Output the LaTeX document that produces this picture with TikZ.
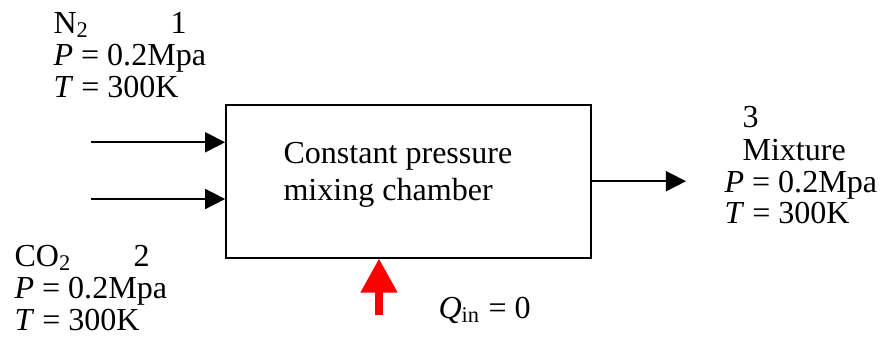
\documentclass[tikz,border=0pt]{standalone}
\usepackage{fontspec}
\setmainfont{Liberation Serif}
\usetikzlibrary{arrows.meta}
\tikzset{
  lbl/.style={anchor=base west,inner sep=0pt,font=\fontsize{11.4}{13}\selectfont},
  flow/.style={line width=0.6pt,-{Triangle[length=0.25cm,width=0.25cm]}},
  heat/.style={red,line width=2.5pt,-{Triangle[length=0.425cm,width=0.44cm]}}
}
\begin{document}
\begin{tikzpicture}
\useasboundingbox (0,0) rectangle (11.0125,4.2875);

\node[draw,line width=0.6pt,minimum width=4.5625cm,minimum height=1.9125cm,inner sep=0pt] (chamber) at (5.106,2.0225) {};
\node[lbl] (chline1) at (3.5375,2.246) {Constant pressure};
\node[lbl] (chline2) at (3.5375,1.7875) {mixing chamber};

% inlet 1
\node[lbl] (gas1) at (0.6625,3.875) {N\textsubscript{2}};
\node[lbl] (st1) at (2.125,3.875) {1};
\node[lbl] (p1) at (0.6625,3.475) {\textit{P} = 0.2Mpa};
\node[lbl] (t1) at (0.6625,3.075) {\textit{T} = 300K};

% inlet 2
\node[lbl] (gas2) at (0.175,0.9625) {CO\textsubscript{2}};
\node[lbl] (st2) at (1.6625,0.9625) {2};
\node[lbl] (p2) at (0.175,0.5625) {\textit{P} = 0.2Mpa};
\node[lbl] (t2) at (0.175,0.1625) {\textit{T} = 300K};

% outlet
\node[lbl] (st3) at (9.275,2.7) {3};
\node[lbl] (gas3) at (9.275,2.2875) {Mixture};
\node[lbl] (p3) at (9.05,1.8875) {\textit{P} = 0.2Mpa};
\node[lbl] (t3) at (9.05,1.5) {\textit{T} = 300K};

\node[lbl] (qin) at (5.475,0.3125) {\textit{Q}\textsubscript{in} = 0};

\coordinate (in1) at (1.1375,2.509);
\coordinate (in2) at (1.1375,1.8);
\coordinate (out) at (8.575,2.0225);
\coordinate (qsrc) at (4.7375,0.35);

\draw[flow] (in1) -- (chamber.west |- in1);
\draw[flow] (in2) -- (chamber.west |- in2);
\draw[flow] (chamber.east) -- (out);
\draw[heat] (qsrc) -- (chamber.south -| qsrc);
\end{tikzpicture}
\end{document}
